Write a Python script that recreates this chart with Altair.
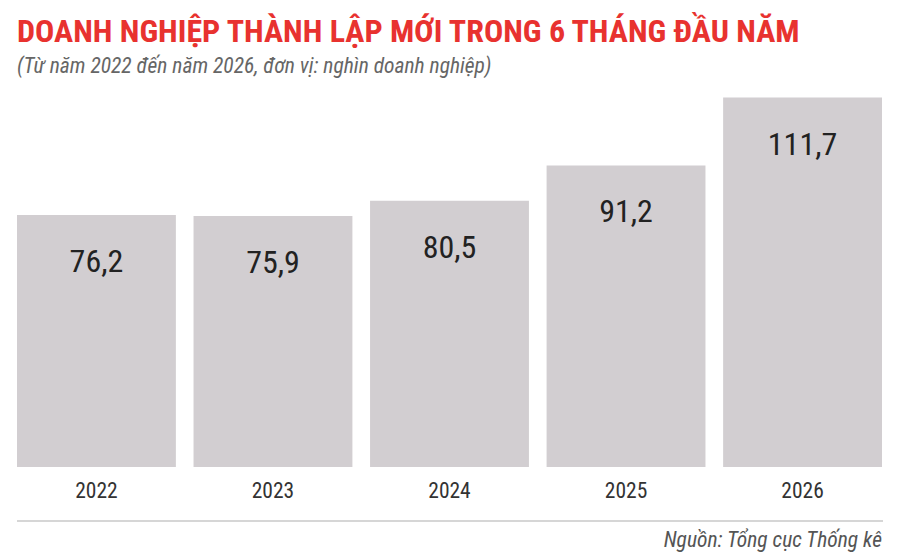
import altair as alt
import pandas as pd

years = ["2022", "2023", "2024", "2025", "2026"]
values = [76.2, 75.9, 80.5, 91.2, 111.7]
labels = ["76,2", "75,9", "80,5", "91,2", "111,7"]

title_text = "DOANH NGHIỆP THÀNH LẬP MỚI TRONG 6 THÁNG ĐẦU NĂM"
subtitle_text = "(Từ năm 2022 đến năm 2026, đơn vị: nghìn doanh nghiệp)"
source_text = "Nguồn: Tổng cục Thống kê"

df = pd.DataFrame({"year": years, "value": values, "label": labels})

FONT = "Roboto Condensed, Liberation Sans Narrow, Roboto"
W, H = 865, 377

x = alt.X("year:N", sort=years,
          scale=alt.Scale(paddingInner=0.1, paddingOuter=0),
          axis=alt.Axis(title=None, labelAngle=0, ticks=False, domain=False, grid=False,
                        labelFont=FONT, labelFontSize=21.5, labelColor="#333333",
                        labelFontWeight="normal", labelPadding=13))
y = alt.Y("value:Q", scale=alt.Scale(domain=[0, 114], nice=False), axis=None)

bars = alt.Chart(df).mark_bar(color="#d2ced1").encode(x=x, y=y)
text = alt.Chart(df).mark_text(font=FONT, fontSize=32, color="#222222",
                               baseline="middle", dy=47).encode(
    x=alt.X("year:N", sort=years), y=alt.Y("value:Q", axis=None),
    text="label:N")

line = alt.Chart(pd.DataFrame({"a": [0]})).mark_rule(color="#d6d6d6", strokeWidth=2).encode(
    x=alt.value(0), x2=alt.value(W + 1), y=alt.value(431), y2=alt.value(431))
src = alt.Chart(pd.DataFrame({"t": [source_text]})).mark_text(
    font=FONT, fontSize=21.5, fontStyle="italic", color="#555555", align="right",
    baseline="middle").encode(x=alt.value(W), y=alt.value(451), text="t:N")

chart = alt.layer(bars, text, line, src).properties(
    width=W, height=H,
    background="white",
    title=alt.TitleParams(
        text=title_text, subtitle=subtitle_text, anchor="start", frame="group",
        font=FONT, fontSize=32, fontWeight="bold", color="#e8322f",
        subtitleFont=FONT, subtitleFontSize=21.5, subtitleFontStyle="italic",
        subtitleColor="#666666", subtitlePadding=7, offset=12),
    autosize=alt.AutoSizeParams(type="none"),
    padding={"left": 9, "top": 82, "right": 10, "bottom": 85},
).configure_view(stroke=None, strokeWidth=0)

chart.save("out.html", embed_options={"renderer": "svg", "actions": False})
